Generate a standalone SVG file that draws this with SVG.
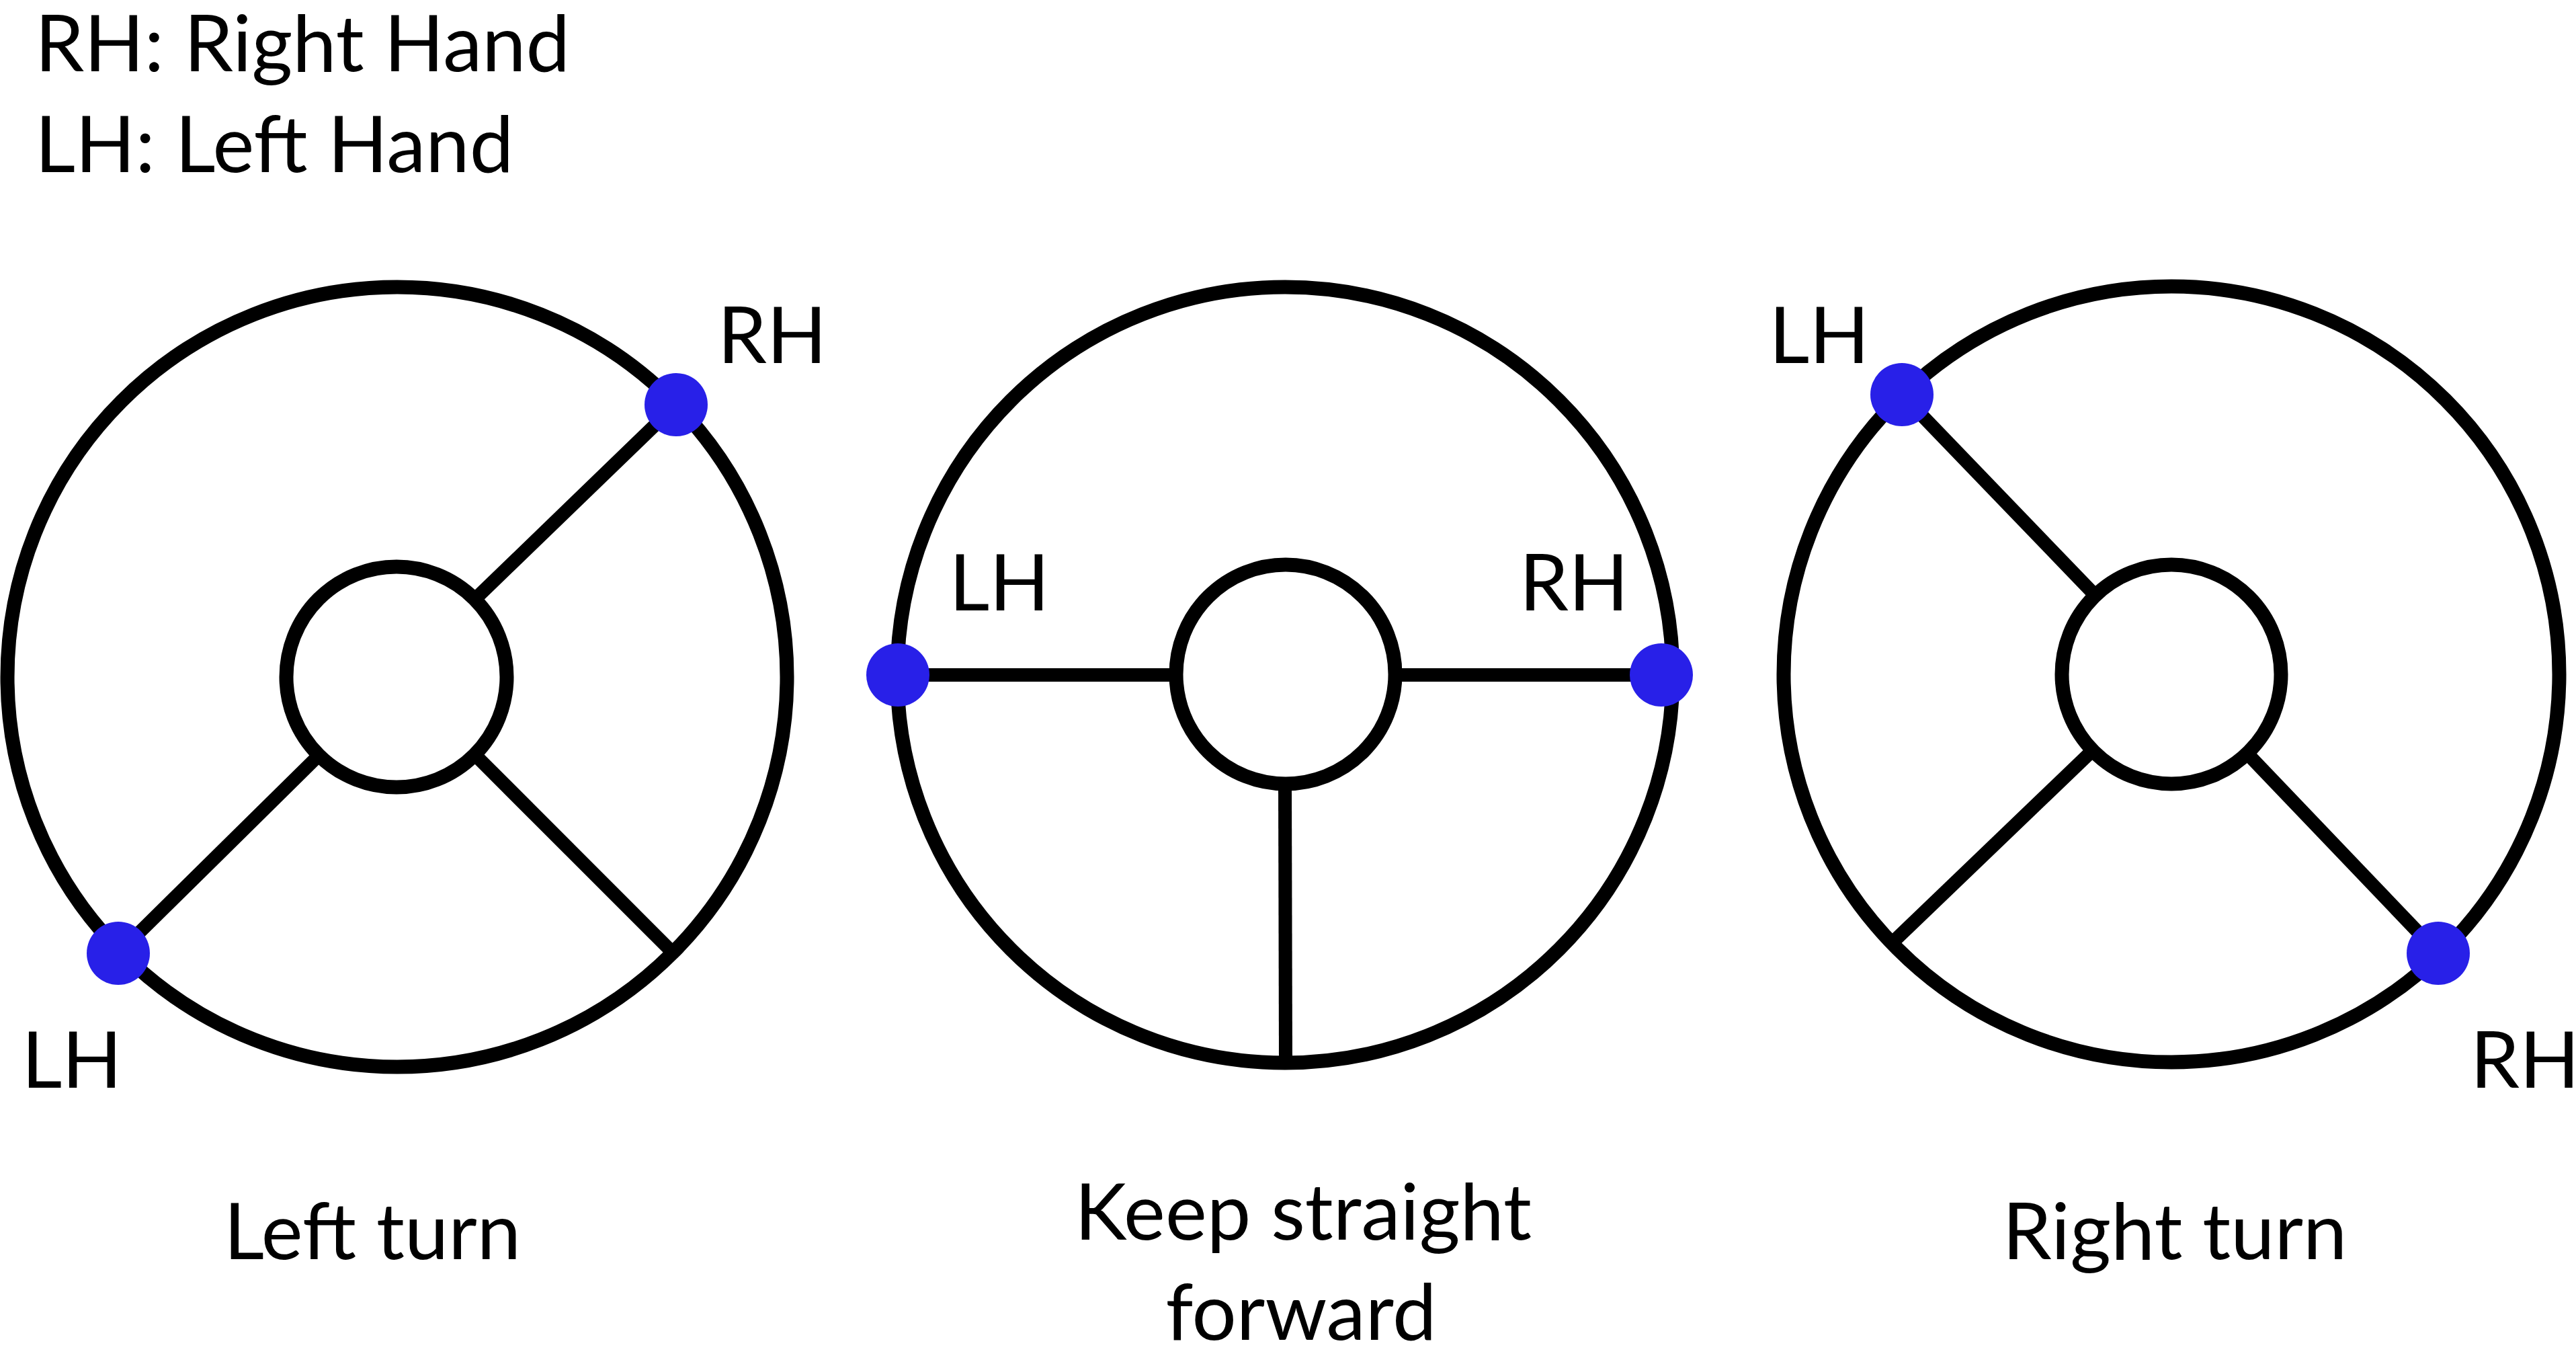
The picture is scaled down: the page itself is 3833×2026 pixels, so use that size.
<svg xmlns="http://www.w3.org/2000/svg" width="3833" height="2026" viewBox="0 0 3833 2026">
<style>
.rim{fill:none;stroke:#000;stroke-width:21}
.spoke{fill:none;stroke:#000;stroke-width:20;stroke-linecap:butt}
.hand{fill:#2820E8}
text{font-family:Lato,"Liberation Sans",sans-serif;font-size:117px;fill:#000}
.lbl{text-anchor:middle}
</style>
<rect width="3833" height="2026" fill="#fff"/>
<g id="legend">
<text x="52" y="106">RH: Right Hand</text>
<text x="52" y="256">LH: Left Hand</text>
</g>
<g id="connectors">
<line class="spoke" x1="707" y1="891" x2="1006" y2="602"/>
<line class="spoke" x1="475" y1="1123" x2="176" y2="1418"/>
<line class="spoke" x1="707" y1="1123" x2="1000" y2="1416"/>
<line class="spoke" x1="1336" y1="1004" x2="1749" y2="1004"/>
<line class="spoke" x1="2075" y1="1004" x2="2472" y2="1004"/>
<line class="spoke" x1="1912" y1="1167" x2="1913" y2="1578"/>
<line class="spoke" x1="3118" y1="886" x2="2830" y2="587"/>
<line class="spoke" x1="3344" y1="1121" x2="3628" y2="1418"/>
<line class="spoke" x1="3114" y1="1116" x2="2816" y2="1402"/>
</g>
<g id="wheel-left">
<circle class="rim" cx="591" cy="1007" r="580"/>
<circle class="rim" cx="590" cy="1007" r="164"/>
<circle class="hand" cx="1006" cy="602" r="47"/>
<circle class="hand" cx="176" cy="1418" r="47"/>
<text class="lbl" x="1149" y="540">RH</text>
<text class="lbl" x="107" y="1618">LH</text>
<text class="lbl" x="554" y="1873">Left turn</text>
</g>
<g id="wheel-middle">
<circle class="rim" cx="1912" cy="1004" r="577"/>
<circle class="rim" cx="1913" cy="1003" r="163"/>
<circle class="hand" cx="1336" cy="1004" r="47"/>
<circle class="hand" cx="2472" cy="1004" r="47"/>
<text class="lbl" x="1487" y="908">LH</text>
<text class="lbl" x="2342" y="908">RH</text>
<text class="lbl" x="1939" y="1844">Keep straight</text>
<text class="lbl" x="1936" y="1993">forward</text>
</g>
<g id="wheel-right">
<circle class="rim" cx="3231" cy="1003" r="577"/>
<circle class="rim" cx="3231" cy="1003" r="163"/>
<circle class="hand" cx="2830" cy="587" r="47"/>
<circle class="hand" cx="3628" cy="1418" r="47"/>
<text class="lbl" x="2707" y="540">LH</text>
<text class="lbl" x="3757" y="1618">RH</text>
<text class="lbl" x="3236" y="1873">Right turn</text>
</g>
</svg>
